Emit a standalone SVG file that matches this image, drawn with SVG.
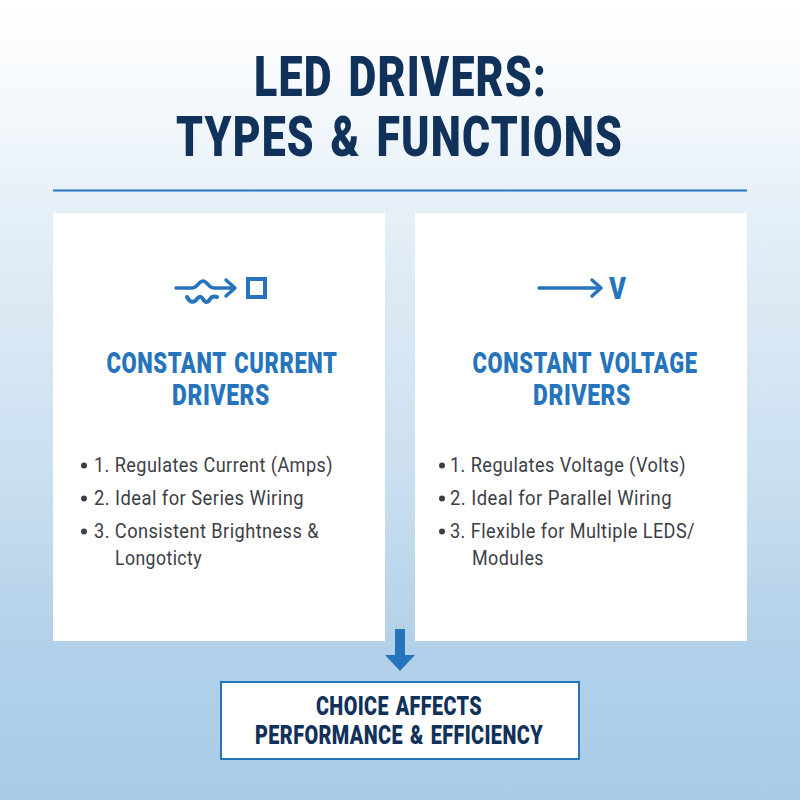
<svg xmlns="http://www.w3.org/2000/svg" width="800" height="800" viewBox="0 0 800 800">
<defs>
<linearGradient id="bg" x1="0" y1="0" x2="0" y2="1">
<stop offset="0" stop-color="#ffffff"/>
<stop offset="0.12" stop-color="#f5f9fc"/>
<stop offset="0.3" stop-color="#e2edf6"/>
<stop offset="0.6" stop-color="#cadff0"/>
<stop offset="0.8" stop-color="#b3d1e9"/>
<stop offset="1" stop-color="#a9cbe6"/>
</linearGradient>
</defs>
<style>
.title{font:900 55px "Roboto","Liberation Sans",sans-serif;letter-spacing:1.500px;word-spacing:5px;fill:#10315a}
.head{font:900 29px "Roboto","Liberation Sans",sans-serif;letter-spacing:0.800px;word-spacing:3px;fill:#2675bc;text-anchor:middle}
.item{font:400 21px "Roboto","Liberation Sans",sans-serif;letter-spacing:0.500px;fill:#3c4046}
.foot{font:900 25px "Roboto","Liberation Sans",sans-serif;letter-spacing:0.500px;word-spacing:2px;fill:#10315a;text-anchor:middle}
.card{fill:#ffffff}
.icon{fill:none;stroke:#2675bc;stroke-width:3.500;stroke-linecap:round;stroke-linejoin:round}
.dot{fill:#3c4046}
</style>
<rect width="800" height="800" fill="url(#bg)"/>
<g id="title">
<text class="title" x="254" y="95.500" textLength="293" lengthAdjust="spacingAndGlyphs">LED DRIVERS:</text>
<text class="title" x="176" y="156" textLength="447" lengthAdjust="spacingAndGlyphs">TYPES &amp; FUNCTIONS</text>
<line x1="53" y1="190.500" x2="747" y2="190.500" stroke="#2675bc" stroke-width="2"/>
</g>
<g id="card-current">
<rect class="card" x="53" y="213" width="332" height="428"/>
<path class="icon" d="M176 288H192C197 288 199 281 203 281C207 281 209 288 214 288H234M226 280L235 288L226 296"/>
<path class="icon" style="stroke-width:4" d="M187 297C190 303 194 303 197 299C199 296 201 296 203 299C205 303 208 303 210 299C212 296 214 296 217 297"/>
<rect class="icon" x="248" y="279" width="17" height="18" stroke-linecap="butt" style="stroke-width:4;stroke-linejoin:miter"/>
<text class="head" x="222" y="373" textLength="231" lengthAdjust="spacingAndGlyphs">CONSTANT CURRENT</text>
<text class="head" x="221" y="405" textLength="98" lengthAdjust="spacingAndGlyphs">DRIVERS</text>
<circle class="dot" cx="84" cy="465.500" r="3"/>
<text class="item" x="94" y="472" textLength="239" lengthAdjust="spacingAndGlyphs">1. Regulates Current (Amps)</text>
<circle class="dot" cx="84" cy="498.500" r="3"/>
<text class="item" x="94" y="505" textLength="210" lengthAdjust="spacingAndGlyphs">2. Ideal for Series Wiring</text>
<circle class="dot" cx="84" cy="531.500" r="3"/>
<text class="item" x="94" y="538" textLength="225" lengthAdjust="spacingAndGlyphs">3. Consistent Brightness &amp;</text>
<text class="item" x="115" y="565" textLength="87" lengthAdjust="spacingAndGlyphs">Longoticty</text>
</g>
<g id="card-voltage">
<rect class="card" x="415" y="213" width="332" height="428"/>
<path class="icon" d="M539 288H600M592 280L601 288L592 296"/>
<text x="609" y="299" font-family="Roboto,'Liberation Sans',sans-serif" font-weight="900" font-size="32" fill="#2675bc" textLength="17" lengthAdjust="spacingAndGlyphs">V</text>
<text class="head" x="585" y="373" textLength="225" lengthAdjust="spacingAndGlyphs">CONSTANT VOLTAGE</text>
<text class="head" x="582" y="405" textLength="98" lengthAdjust="spacingAndGlyphs">DRIVERS</text>
<circle class="dot" cx="442" cy="465.500" r="3"/>
<text class="item" x="450" y="472" textLength="236" lengthAdjust="spacingAndGlyphs">1. Regulates Voltage (Volts)</text>
<circle class="dot" cx="442" cy="498.500" r="3"/>
<text class="item" x="450" y="505" textLength="222" lengthAdjust="spacingAndGlyphs">2. Ideal for Parallel Wiring</text>
<circle class="dot" cx="442" cy="531.500" r="3"/>
<text class="item" x="450" y="538" textLength="245" lengthAdjust="spacingAndGlyphs">3. Flexible for Multiple LEDS/</text>
<text class="item" x="472" y="565" textLength="72" lengthAdjust="spacingAndGlyphs">Modules</text>
</g>
<g id="connectors">
<path d="M395 629H405V655H415L400 671L385 655H395Z" fill="#2675bc"/>
</g>
<g id="summary">
<rect x="221" y="682" width="358" height="77" fill="#ffffff" stroke="#2675bc" stroke-width="2"/>
<text class="foot" x="399" y="715" textLength="166" lengthAdjust="spacingAndGlyphs">CHOICE AFFECTS</text>
<text class="foot" x="399" y="744" textLength="288" lengthAdjust="spacingAndGlyphs">PERFORMANCE &amp; EFFICIENCY</text>
</g>
</svg>
